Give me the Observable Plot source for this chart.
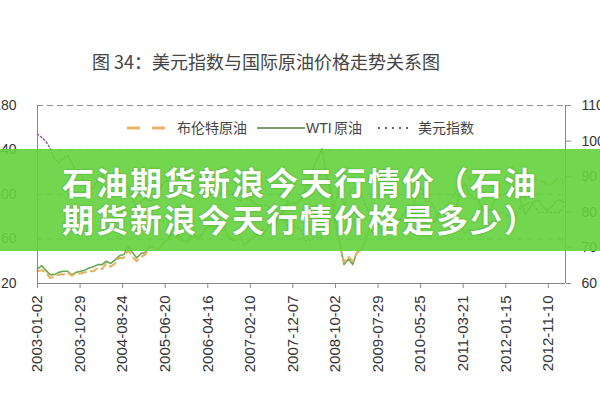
<!DOCTYPE html>
<html><head><meta charset="utf-8">
<script src="https://cdn.jsdelivr.net/npm/d3@7"></script>
<script src="https://cdn.jsdelivr.net/npm/@observablehq/plot@0.6"></script>
<style>
body{margin:0;background:#fff;}
#wrap{position:relative;width:600px;height:400px;overflow:hidden;background:#fff;}
#chart{position:absolute;left:0;top:0;}
#title{position:absolute;left:92px;top:48px;font:18px "Noto Sans CJK SC";color:#444;white-space:nowrap;}
#legend{position:absolute;left:0;top:0;}
#banner{position:absolute;left:0;top:149px;width:600px;height:102px;background:rgba(100,210,62,0.9);color:#fff;font:bold 32px/37px "Noto Sans CJK SC";letter-spacing:2px;text-align:center;padding-top:14px;box-sizing:border-box;text-shadow:0 0 2px rgba(0,70,0,0.45);}
</style></head>
<body>
<div id="wrap">
  <div id="chart"></div>
  <div id="title">图 34：美元指数与国际原油价格走势关系图</div>
  <svg id="legend" width="600" height="150" font-family="Noto Sans CJK SC" font-size="14" fill="#444">
    <line x1="127" x2="166" y1="128" y2="128" stroke="#e8b46a" stroke-width="3" stroke-dasharray="13,12"/>
    <text x="177" y="133">布伦特原油</text>
    <line x1="257" x2="305" y1="128" y2="128" stroke="#7f9c72" stroke-width="1.8"/>
    <text x="306" y="133" font-family="Liberation Sans">WTI</text>
    <text x="334" y="133">原油</text>
    <line x1="378" x2="410" y1="128" y2="128" stroke="#666" stroke-width="2" stroke-dasharray="2,5"/>
    <text x="418" y="133">美元指数</text>
  </svg>
  <div id="banner">石油期货新浪今天行情价（石油<br>期货新浪今天行情价格是多少）</div>
</div>
<script>
// Monthly values, 2003-01 .. 2013-03
const wti = [
 33,36,32,28,28,30,31,31,28,30,31,32,
 34,35,37,37,40,38,41,45,46,53,48,43,
 47,48,54,53,50,56,59,65,65,62,58,59,
 65,61,63,70,71,71,74,73,64,59,59,62,
 54,59,61,64,63,68,74,72,80,86,94,92,
 93,95,105,112,125,134,141,116,104,77,57,37,
 42,37,48,50,59,70,64,71,69,76,78,74,
 78,76,81,84,74,75,76,77,75,82,84,89,
 89,89,103,110,101,96,97,86,86,86,97,99,
 100,102,106,103,94,82,88,94,95,89,86,88,
 94,95,93];
const brent = [
 31,32,30,25,26,28,28,30,27,29,29,30,
 31,31,34,33,38,35,38,43,43,50,44,40,
 44,46,53,53,50,55,57,63,63,59,56,57,
 63,60,62,70,70,69,74,73,63,60,59,62,
 54,58,62,67,68,71,77,71,77,82,92,91,
 92,95,103,109,123,133,138,113,99,72,53,39,
 44,40,47,51,58,69,65,73,68,73,77,75,
 77,74,79,85,76,75,75,77,78,83,86,91,
 96,104,114,123,114,114,117,110,110,109,110,107,
 111,119,125,120,110,95,103,113,113,112,109,109,
 113,116,109];
const dxy = [
 102,101,100,98,95,94,95,96,94,91,91,88,
 86,87,89,90,91,89,88,89,89,87,84,81,
 83,84,83,84,85,88,89,88,88,90,91,90,
 89,90,90,88,85,85,86,85,86,86,84,83,
 85,84,83,82,82,82,81,81,79,78,76,76,
 76,75,72,72,73,73,73,75,78,83,87,82,
 85,87,87,85,82,80,79,78,77,76,75,77,
 78,80,81,81,86,87,83,83,81,77,78,80,
 79,77,76,74,75,75,74,74,77,77,78,80,
 80,79,80,79,82,82,83,82,80,80,80,80,
 80,80,82];
const xTickLabels = ["2003-01-02","2003-10-29","2004-08-24","2005-06-20","2006-04-16","2007-02-10","2007-12-07","2008-10-02","2009-07-29","2010-05-25","2011-03-21","2012-01-15","2012-11-10"];
const leftTicks = [20,60,100,140,180];
const rightTicks = [60,70,80,90,100,110];
const xStart = "2003-01-02", xEnd = "2013-03-11";
const firstMonth = "2003-01-01";

const x0 = new Date(xStart), x1 = new Date(xEnd);
const months = d3.utcMonth.range(new Date(firstMonth), d3.utcMonth.offset(new Date(firstMonth), wti.length));
const rows = months.map((d, i) => ({date: d, wti: wti[i], brent: brent[i], dxy: dxy[i]}));
const toLeft = v => 20 + (v - 60) * 160 / 50;

const chart = Plot.plot({
  width: 600, height: 400,
  marginTop: 105, marginBottom: 117, marginLeft: 37, marginRight: 35,
  x: {type: "utc", domain: [x0, x1]},
  y: {domain: [20, 180]},
  style: {fontFamily: "Liberation Sans, Arial, sans-serif", fontSize: "14px", color: "#333", background: "transparent"},
  marks: [
    Plot.gridY(leftTicks.filter(v => v > 20), {stroke: "#8a8a8a", strokeOpacity: 0.9, strokeDasharray: "6,4"}),
    Plot.line(rows, {x: "date", y: "wti", stroke: "#6aa84f", strokeWidth: 1.6}),
    Plot.line(rows, {x: "date", y: "brent", stroke: "#e6b060", strokeWidth: 2, strokeDasharray: "7,5"}),
    Plot.line(rows, {x: "date", y: d => toLeft(d.dxy), stroke: "#9a6a9a", strokeWidth: 1.6, strokeDasharray: "1.5,2.5"}),
    Plot.ruleY([20], {stroke: "#888"}),
    Plot.ruleX([x0, x1], {stroke: "#888"}),
    Plot.axisY(leftTicks, {anchor: "left", tickSize: 0, tickPadding: 21, fontSize: 14, fill: "#333", label: null}),
    Plot.axisY(rightTicks.map(toLeft), {anchor: "right", tickSize: 5, tickPadding: 11, stroke: "#888", fill: "#333", fontSize: 14,
      tickFormat: v => String(Math.round((v - 20) * 50 / 160 + 60)), label: null}),
    Plot.axisX(xTickLabels.map(s => new Date(s)), {anchor: "bottom", tickRotate: -90, tickSize: 5, tickPadding: 7,
      stroke: "#888", fill: "#333", fontSize: 15, tickFormat: d3.utcFormat("%Y-%m-%d"), label: null})
  ]
});
document.getElementById("chart").appendChild(chart);
</script>
</body></html>
